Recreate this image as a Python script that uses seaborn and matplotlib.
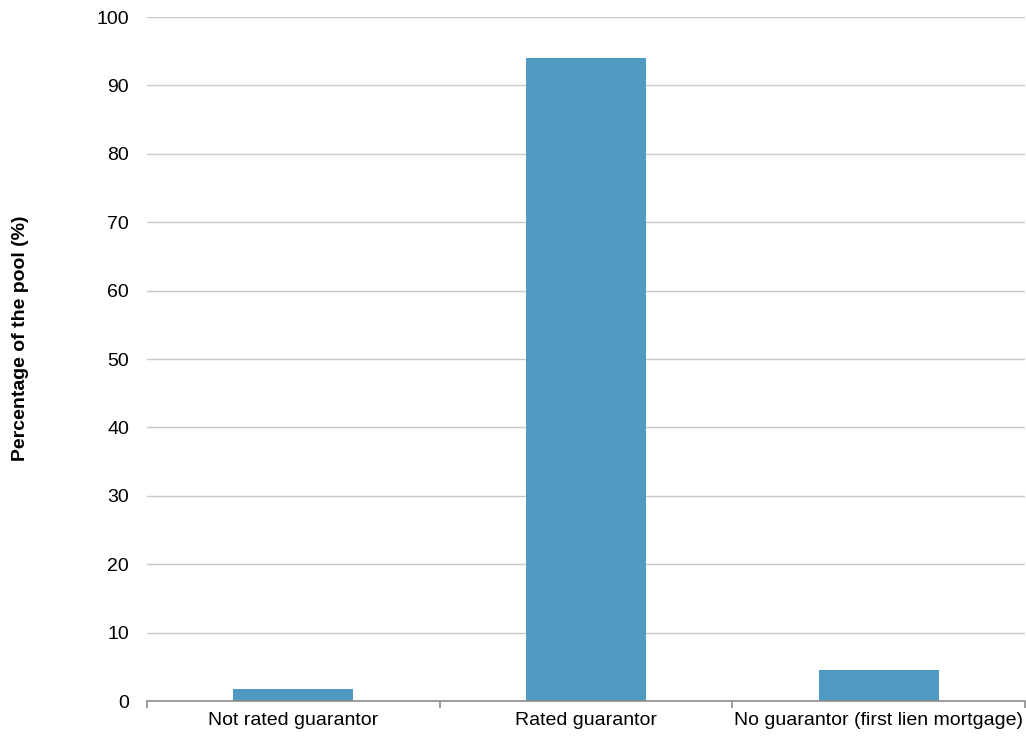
import matplotlib
matplotlib.use("Agg")
import matplotlib.pyplot as plt
import seaborn as sns
import pandas as pd

categories = ["Not rated guarantor", "Rated guarantor", "No guarantor (first lien mortgage)"]
shares = [1.7, 94.0, 4.6]
y_ticks = [0, 10, 20, 30, 40, 50, 60, 70, 80, 90, 100]

sns.set_theme(style="white")
plt.rcParams["font.family"] = ["Liberation Sans", "DejaVu Sans"]
plt.rcParams["text.color"] = "#000000"
plt.rcParams["axes.labelcolor"] = "#000000"

df = pd.DataFrame({"category": categories, "share": shares})

fig = plt.figure(figsize=(10.26, 7.38), dpi=100)
ax = fig.add_axes([0.1433, 0.0501, 0.8557, 0.9268])

sns.barplot(data=df, x="category", y="share", color="#4E9AC2", saturation=1,
            width=0.41, edgecolor="none", linewidth=0, ax=ax, zorder=3)

ax.set_ylim(0, 100)
ax.set_xlim(-0.5, 2.5)
ax.set_yticks(y_ticks)
ax.set_yticklabels([str(t) for t in y_ticks], fontsize=14, color="#000000")
ax.yaxis.grid(True, color="#C9C9C9", linewidth=1.0, zorder=0)
ax.xaxis.grid(False)

for s in ["left", "right", "top"]:
    ax.spines[s].set_visible(False)
ax.spines["bottom"].set_color("#8C8C8C")
ax.spines["bottom"].set_linewidth(1.2)
ax.spines["bottom"].set_zorder(4)

ax.tick_params(axis="y", length=0, pad=13)
ax.set_xticks([0, 1, 2])
ax.set_xticklabels(categories, fontsize=14, color="#000000")
ax.tick_params(axis="x", which="major", bottom=False, length=0, pad=8)
ax.set_xticks([-0.5, 0.5, 1.5, 2.5], minor=True)
ax.tick_params(axis="x", which="minor", bottom=True, length=5, width=1.2,
               color="#8C8C8C", direction="out")

ax.set_xlabel("")
ax.set_ylabel("Percentage of the pool (%)", fontsize=14, fontweight="bold",
              color="#000000", labelpad=0)
ax.yaxis.set_label_coords(-0.135, 0.531)

fig.savefig("out.png", dpi=100)
